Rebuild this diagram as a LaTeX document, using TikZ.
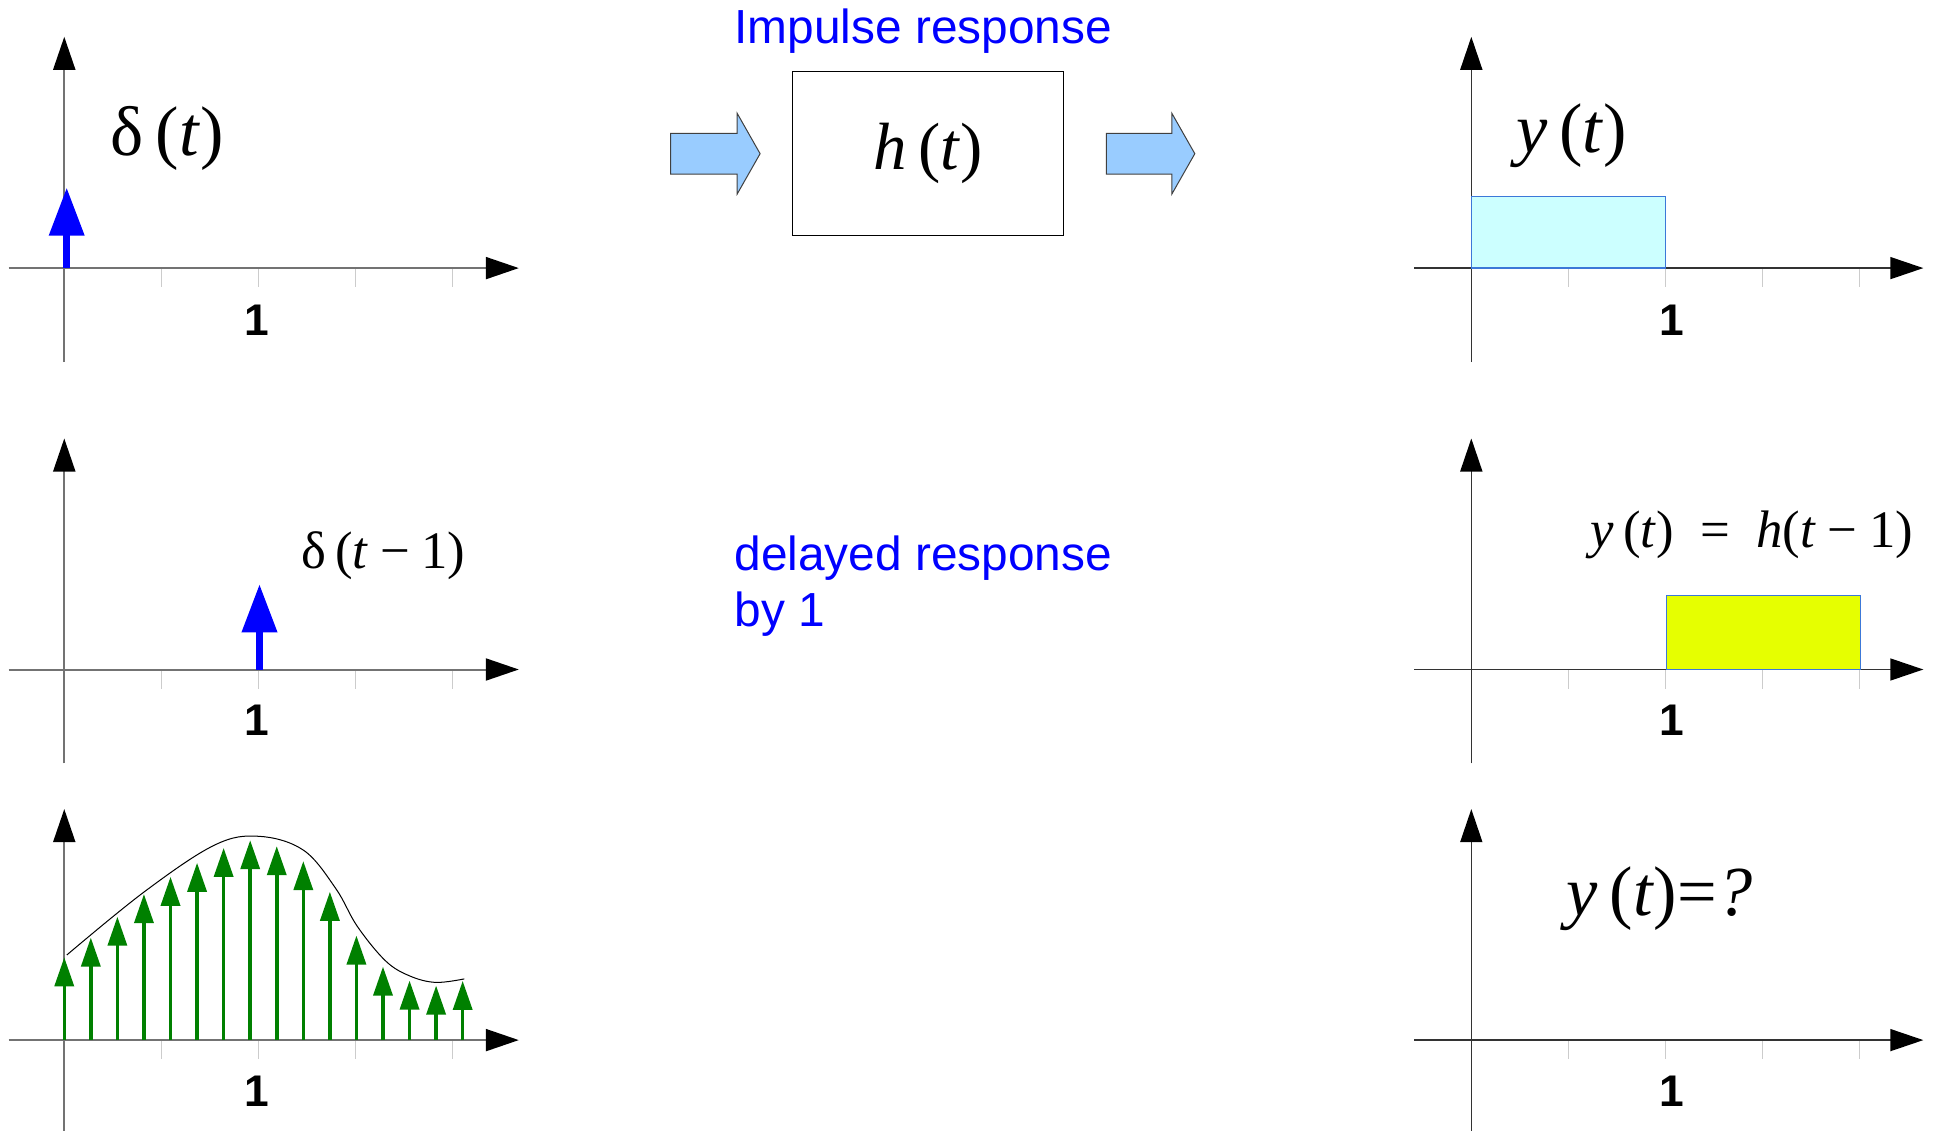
\documentclass[tikz,border=0pt]{standalone}
\usepackage{fontspec}
\setmainfont{Liberation Sans}
\newfontfamily\lserif{Liberation Serif}
\usetikzlibrary{arrows.meta}
\definecolor{stemblue}{RGB}{0,0,255}
\definecolor{stemgreen}{RGB}{0,128,0}
\definecolor{blockblue}{HTML}{99CCFF}
\definecolor{respcyan}{HTML}{CCFFFF}
\definecolor{respyellow}{HTML}{E6FF00}
\definecolor{respedge}{HTML}{3C78D8}
\tikzset{
  tickmark/.style={black!20, line width=0.01cm},
  axisleft/.style={black!55, line width=0.02cm, -{Triangle[length=0.33cm,width=0.22cm,color=black]}},
  axisright/.style={black!80, line width=0.015cm, -{Triangle[length=0.33cm,width=0.22cm,color=black]}},
  impulse/.style={stemblue, line width=0.07cm, -{Triangle[length=0.48cm,width=0.34cm]}},
  sample/.style={stemgreen, line width=0.035cm, -{Triangle[length=0.29cm,width=0.19cm]}},
  envelope/.style={black, line width=0.01cm},
  blockarrow/.style={fill=blockblue, draw=black!75, line width=0.01cm},
  sysbox/.style={draw, line width=0.012cm, minimum width=2.706cm, minimum height=1.64cm, inner sep=0pt},
  bigmath/.style={inner sep=0pt, font=\lserif\fontsize{20}{24}\selectfont},
  midmath/.style={inner sep=0pt, font=\lserif\fontsize{15}{18}\selectfont},
  note/.style={inner sep=0pt, text=stemblue, font=\fontsize{13.6}{15.9}\selectfont},
  unitlbl/.style={inner sep=0pt, font=\bfseries\fontsize{12.6}{14}\selectfont}
}
\newcommand{\msp}{\hspace{0.22em}}

\begin{document}
\begin{tikzpicture}[x=0.01cm,y=-0.01cm]
\useasboundingbox (0,0) rectangle (1937,1131);

% ticks and axes
\foreach \ox in {64.27,1471.3}
  \foreach \oy in {268.1,669.5,1040.1}
    \foreach \k in {0,...,4}
      \draw[tickmark] (\ox+97.1*\k,\oy) -- ++(0,19);
\foreach \oy/\ytip/\ybot in {268.1/36.8/362.1,669.5/438.5/763.4,1040.1/809.1/1131}{
  \draw[axisleft] (8.7,\oy) -- (518.8,\oy);
  \draw[axisleft] (64.27,\ybot) -- (64.27,\ytip);
  \draw[axisright] (1414.4,\oy) -- (1923.3,\oy);
  \draw[axisright] (1471.3,\ybot) -- (1471.3,\ytip);
}
\foreach \oy [count=\r] in {320,720.3,1090.8}{
  \node[unitlbl] (one-L\r) at (257,\oy) {1};
  \node[unitlbl] (one-R\r) at (1671.3,\oy) {1};
}

% system block
\node[sysbox, font=\lserif\fontsize{19}{23}\selectfont] (sys) at (928.2,153.7) {\textit{h}\,(\textit{t})};
\draw[blockarrow] (670.5,133.3) -- (737.2,133.3) -- (737.2,113.4) -- (760.1,153.7) -- (737.2,194) -- (737.2,174.1) -- (670.5,174.1) -- cycle;
\draw[blockarrow] (1106.3,133.3) -- (1171.9,133.3) -- (1171.9,113.4) -- (1194.8,153.7) -- (1171.9,194) -- (1171.9,174.1) -- (1106.3,174.1) -- cycle;
\node[note, anchor=base west] (title) at (733.8,43.8) {Impulse response};
\node[note, anchor=north west, align=left] (delay) at (733.8,534.8) {delayed response\\by 1};

% responses
\draw[respedge, fill=respcyan, line width=0.012cm] (1471.4,196.4) rectangle (1665.4,268.1);
\draw[respedge, fill=respyellow, line width=0.012cm] (1666.4,595.4) rectangle (1860.4,669.5);

% impulses
\coordinate (imp0) at (66.7,268.1);
\coordinate (imp0-tip) at (66.7,187.7);
\coordinate (imp1) at (259.5,669.5);
\coordinate (imp1-tip) at (259.5,584.3);
\draw[impulse] (imp0) -- (imp0-tip);
\draw[impulse] (imp1) -- (imp1-tip);

% sampled input
\foreach \h [count=\i from 0] in {82.8,102.5,123.4,146,163.3,177.3,192.2,199.9,193.9,179,148.3,104.5,73.5,59.5,54.5,59.2}
  \draw[sample] (64.27+26.56*\i,1040.1) -- ++(0,-\h);
\draw[envelope] plot[smooth, tension=0.6] coordinates {(66.8,955) (144.3,891.8) (214.3,845.2) (259,836.3) (303.5,850.2) (335.7,888.4) (357.2,926.2) (385.7,961) (409.9,976) (435.7,982.4) (464.3,978.9)};

% labels
\node[bigmath] (delta) at (167.1,138.3) {δ\,(\textit{t})};
\node[bigmath] (resp) at (1571.4,135.8) {\textit{y}\,(\textit{t})};
\node[midmath] (shift) at (383.5,555.8) {δ\,(\textit{t}\msp−\msp1)};
\node[midmath] (yshift) at (1752,535) {\textit{y}\,(\textit{t})\enspace=\enspace\textit{h}(\textit{t}\msp−\msp1)};
\node[bigmath] (yq) at (1659.4,898.7) {\textit{y}\,(\textit{t})=\textit{?}};
\end{tikzpicture}
\end{document}
